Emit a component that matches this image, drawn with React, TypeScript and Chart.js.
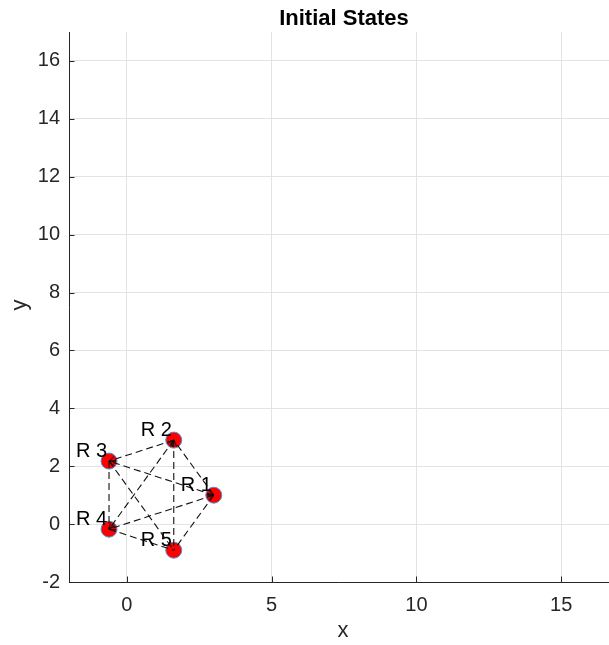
import React, { useEffect, useRef } from "react";
import { Chart, registerables } from "chart.js";

Chart.register(...registerables);

// ---- data ----
const nodeLabels = ["R 1", "R 2", "R 3", "R 4", "R 5"];
const nodeX = [3.0, 1.618, -0.618, -0.618, 1.618];
const nodeY = [1.0, 2.902, 2.176, -0.176, -0.902];

// undirected dashed links (indices into the node arrays)
const edgeA = [0, 0, 0, 0, 1, 1, 1, 2, 2, 3];
const edgeB = [1, 2, 3, 4, 2, 3, 4, 3, 4, 4];

// arrowheads (from -> to)
const arrowFrom = [3, 4, 1, 0, 2, 3, 0, 1];
const arrowTo = [1, 1, 2, 2, 0, 0, 3, 3];

const xTicks = [0, 5, 10, 15];
const yTicks = [-2, 0, 2, 4, 6, 8, 10, 12, 14, 16];
const xMin = -2;
const xMax = 16.65;
const yMin = -2;
const yMax = 17;

const titleText = "Initial States";
const xTitle = "x";
const yTitle = "y";

const FONT = "'Liberation Sans', Arial, Helvetica, sans-serif";
const AXIS_COLOR = "#262626";

const decorPlugin = {
  id: "decor",
  afterDatasetsDraw(chart: any) {
    const ctx = chart.ctx;
    const xs = chart.scales.x;
    const ys = chart.scales.y;
    // arrowheads
    ctx.save();
    ctx.strokeStyle = "#111111";
    ctx.lineWidth = 1;
    for (let k = 0; k < arrowFrom.length; k++) {
      const a = arrowFrom[k];
      const b = arrowTo[k];
      const x0 = xs.getPixelForValue(nodeX[a]);
      const y0 = ys.getPixelForValue(nodeY[a]);
      const x1 = xs.getPixelForValue(nodeX[b]);
      const y1 = ys.getPixelForValue(nodeY[b]);
      const ang = Math.atan2(y1 - y0, x1 - x0);
      const L = 7;
      const s = 0.42;
      ctx.beginPath();
      ctx.moveTo(x1 - L * Math.cos(ang - s), y1 - L * Math.sin(ang - s));
      ctx.lineTo(x1, y1);
      ctx.lineTo(x1 - L * Math.cos(ang + s), y1 - L * Math.sin(ang + s));
      ctx.stroke();
    }
    // node labels
    ctx.fillStyle = "#000000";
    ctx.font = `20px ${FONT}`;
    ctx.textAlign = "right";
    ctx.textBaseline = "alphabetic";
    for (let i = 0; i < nodeLabels.length; i++) {
      const px = xs.getPixelForValue(nodeX[i]);
      const py = ys.getPixelForValue(nodeY[i]);
      ctx.fillText(nodeLabels[i], px - 2, py - 4);
    }
    ctx.restore();
  },
  afterDraw(chart: any) {
    const ctx = chart.ctx;
    const area = chart.chartArea;
    const xs = chart.scales.x;
    const ys = chart.scales.y;
    ctx.save();
    // axis lines
    ctx.strokeStyle = AXIS_COLOR;
    ctx.lineWidth = 1;
    ctx.beginPath();
    ctx.moveTo(area.left + 0.5, area.top);
    ctx.lineTo(area.left + 0.5, area.bottom + 0.5);
    ctx.lineTo(area.right, area.bottom + 0.5);
    ctx.stroke();
    // inward tick marks
    ctx.beginPath();
    for (const v of xTicks) {
      const px = Math.round(xs.getPixelForValue(v)) + 0.5;
      ctx.moveTo(px, area.bottom);
      ctx.lineTo(px, area.bottom - 5.5);
    }
    for (const v of yTicks) {
      const py = Math.round(ys.getPixelForValue(v)) + 0.5;
      ctx.moveTo(area.left, py);
      ctx.lineTo(area.left + 5.5, py);
    }
    ctx.stroke();
    // title
    ctx.fillStyle = "#000000";
    ctx.font = `bold 22px ${FONT}`;
    ctx.textAlign = "center";
    ctx.textBaseline = "alphabetic";
    ctx.fillText(titleText, 344, 25);
    // axis titles
    ctx.fillStyle = AXIS_COLOR;
    ctx.font = `22px ${FONT}`;
    ctx.fillText(xTitle, 343, 637);
    ctx.translate(26, 305);
    ctx.rotate(-Math.PI / 2);
    ctx.fillText(yTitle, 0, 0);
    ctx.restore();
  },
};

export default function App() {
  const ref = useRef<HTMLCanvasElement | null>(null);

  useEffect(() => {
    if (!ref.current) return;
    const edgeSets = edgeA.map((a, k) => {
      const b = edgeB[k];
      return {
        type: "line" as const,
        data: [
          { x: nodeX[a], y: nodeY[a] },
          { x: nodeX[b], y: nodeY[b] },
        ],
        borderColor: "#111111",
        borderWidth: 1.1,
        borderDash: [7, 4],
        pointRadius: 0,
        showLine: true,
        fill: false,
        order: 1,
      };
    });
    const nodeSet = {
      type: "scatter" as const,
      data: nodeX.map((x, i) => ({ x, y: nodeY[i] })),
      backgroundColor: "#ff0000",
      borderColor: "#4f8fd6",
      borderWidth: 1,
      pointRadius: 8,
      order: 2,
    };
    const chart = new Chart(ref.current, {
      type: "scatter",
      data: { datasets: [...edgeSets, nodeSet] as any },
      options: {
        responsive: false,
        animation: false,
        devicePixelRatio: 1,
        layout: { autoPadding: false, padding: { top: 32, left: 0, right: 0, bottom: 0 } },
        plugins: {
          legend: { display: false },
          tooltip: { enabled: false },
          title: { display: false },
        },
        scales: {
          x: {
            type: "linear",
            min: xMin,
            max: xMax,
            border: { display: false },
            grid: { color: "#e3e3e3", drawTicks: false, lineWidth: 1 },
            ticks: {
              padding: 11,
              color: AXIS_COLOR,
              font: { family: FONT, size: 20 },
              maxRotation: 0,
            },
            afterBuildTicks: (s: any) => {
              s.ticks = xTicks.map((v) => ({ value: v }));
            },
            afterFit: (s: any) => {
              s.height = 63;
              s.paddingLeft = 0;
              s.paddingRight = 0;
            },
          },
          y: {
            type: "linear",
            min: yMin,
            max: yMax,
            border: { display: false },
            grid: { color: "#e3e3e3", drawTicks: false, lineWidth: 1 },
            ticks: {
              padding: 9,
              color: AXIS_COLOR,
              font: { family: FONT, size: 20 },
            },
            afterBuildTicks: (s: any) => {
              s.ticks = yTicks.map((v) => ({ value: v }));
            },
            afterFit: (s: any) => {
              s.width = 69;
              s.paddingTop = 0;
              s.paddingBottom = 0;
            },
          },
        },
      },
      plugins: [decorPlugin],
    });
    return () => chart.destroy();
  }, []);

  return (
    <div style={{ position: "absolute", left: 0, top: 0, width: 609, height: 645, background: "#ffffff" }}>
      <canvas ref={ref} width={609} height={645} style={{ display: "block" }} />
    </div>
  );
}
